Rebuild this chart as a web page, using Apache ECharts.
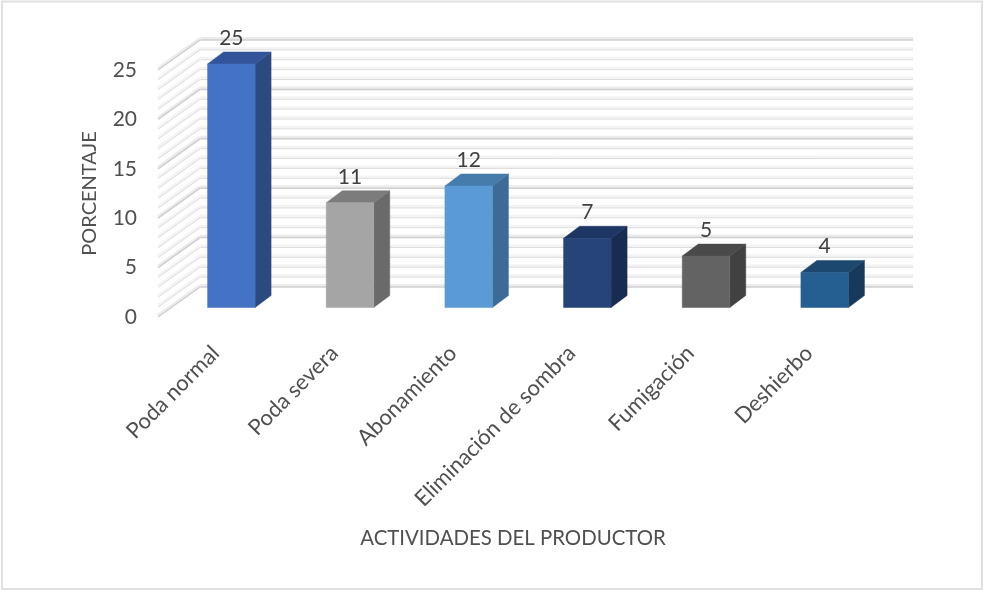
<!DOCTYPE html>
<html><head><meta charset="utf-8">
<style>html,body{margin:0;background:#fff}#c{width:983px;height:591px}</style>
<script src="https://cdn.jsdelivr.net/npm/echarts@6/dist/echarts.min.js"></script></head>
<body><div id="c"></div>
<script>
const categories=['Poda normal','Poda severa','Abonamiento','Eliminación de sombra','Fumigación','Deshierbo'];
const values=[24.65,10.6,12.3,7.0,5.2,3.55];
const gridValues=[0,1,2,3,4,5,6,7,8,9,10,11,12,13,14,15,16,17,18,19,20,21,22,23,24,25];
const frontColors=['#4472C4','#A5A5A5','#5B9BD5','#264478','#636363','#255E91'];
const sideColors=['#2A4A80','#6A6A6A','#3B6B96','#182C52','#414141','#173A5C'];
const topColors=['#32559A','#7C7C7C','#467CAB','#1D3663','#4A4A4A','#1C476E'];
const FONT='Lato';
const chart=echarts.init(document.getElementById('c'));
const BASE=9.5,BW=47.5,DX=16,DY=12;
chart.setOption({
 animation:false,
 textStyle:{fontFamily:FONT},
 graphic:[{type:'rect',shape:{x:2,y:1.5,width:980,height:587.5},style:{fill:'#fff',stroke:'#e0e0e0',lineWidth:2},z:-10}],
 grid:{left:172,top:70,width:712,height:247},
 xAxis:{type:'category',data:categories,
  axisLine:{show:false},axisTick:{show:false},splitLine:{show:false},
  axisLabel:{rotate:45,interval:0,margin:17,fontSize:22,color:'#505050',padding:[0,22,0,0],fontFamily:FONT},
  name:'ACTIVIDADES DEL PRODUCTOR',nameLocation:'middle',nameGap:211,
  nameTextStyle:{fontSize:20.4,color:'#505050',padding:[0,30,0,0],fontFamily:FONT}},
 yAxis:{type:'value',min:0,max:25,interval:5,
  axisLine:{show:false},axisTick:{show:false},splitLine:{show:false},
  axisLabel:{margin:35,fontSize:21,color:'#505050',fontFamily:FONT},
  name:'PORCENTAJE',nameLocation:'middle',nameGap:72.5,
  nameTextStyle:{fontSize:20,color:'#505050',fontFamily:FONT}},
 series:[
  {type:'custom',silent:true,clip:false,z:1,data:gridValues.map(v=>[0,v]),
   encode:{x:0,y:1},
   renderItem(params,api){
    const v=api.value(1),y=api.coord([0,v])[1],g=params.coordSys,major=v%5===0;
    const xf=g.x-14,xb=g.x+28,xe=g.x+g.width+29,yb=y-30;
    const band=major?'#ececec':'#f4f4f4',line=major?'#cfcfcf':'#dedede';
    const L=(a,b,c,d,s,w)=>({type:'line',shape:{x1:a,y1:b,x2:c,y2:d},style:{stroke:s,lineWidth:w}});
    return {type:'group',children:[
      L(xb,yb-1.5,xe,yb-1.5,band,3),
      L(xb,yb,xe,yb,line,major?1.5:1),
      L(xf,y-1.5,xb,yb-1.5,band,3),
      L(xf,y,xb,yb,line,major?1.5:1)
    ]};
   }},
  {type:'custom',clip:false,z:2,data:values.map((v,i)=>[i,v]),encode:{x:0,y:1},
   renderItem(params,api){
    const i=params.dataIndex,v=api.value(1);
    const cx=api.coord([i,0])[0],y0=api.coord([i,0])[1]-BASE,yt=api.coord([i,v])[1]-BASE;
    const l=cx-BW/2,r=cx+BW/2;
    const P=(pts,f)=>({type:'polygon',shape:{points:pts},style:{fill:f,stroke:f,lineWidth:.5}});
    return {type:'group',children:[
      P([[r,yt],[r+DX,yt-DY],[r+DX,y0-DY],[r,y0]],sideColors[i]),
      P([[l,yt],[l+DX,yt-DY],[r+DX,yt-DY],[r,yt]],topColors[i]),
      P([[l,yt],[r,yt],[r,y0],[l,y0]],frontColors[i]),
      {type:'text',style:{x:cx,y:yt-DY-14,text:String(Math.round(v)),fill:'#404040',
        font:'21px '+FONT,align:'center',verticalAlign:'middle'}}
    ]};
   }}
 ]
});
</script></body></html>
